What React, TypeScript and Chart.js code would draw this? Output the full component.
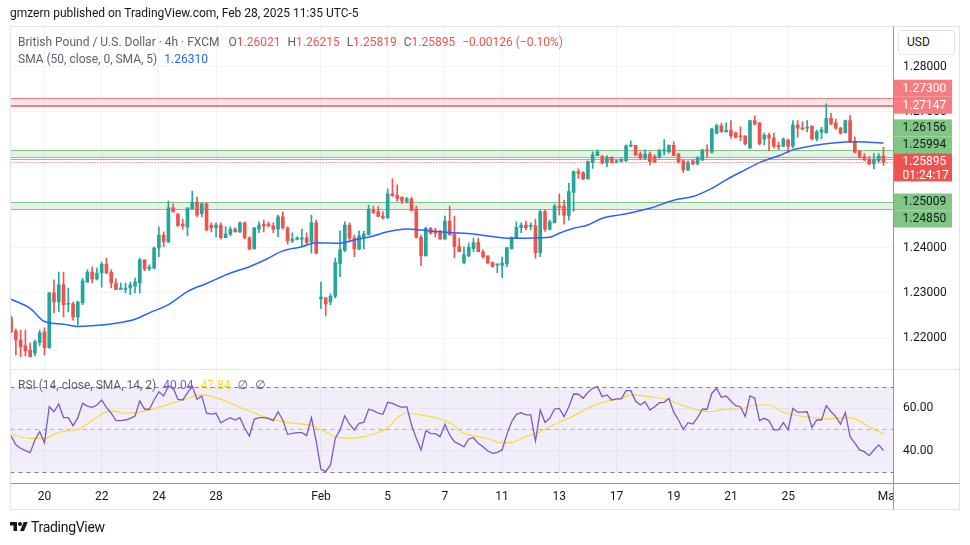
import React, { useEffect, useRef } from 'react';
import { Chart, registerables } from 'chart.js';

Chart.register(...registerables);

const FONT = 'Roboto, "Noto Sans", "DejaVu Sans", sans-serif';
const UP = '#26a69a';
const DOWN = '#ef5350';
const GREY_TEXT = '#5d606b';
const TEXT = '#131722';

// ---- 4h GBPUSD candles (index 0 = Jan 16 13:00 ... index 183 = Feb 28 09:00) ----
const opens = [
  1.2245, 1.2216, 1.2196, 1.2183, 1.2174, 1.2167, 1.2190, 1.2214, 1.2179, 1.2300,
  1.2280, 1.2318, 1.2275, 1.2276, 1.2247, 1.2278, 1.2324, 1.2346, 1.2331, 1.2344,
  1.2364, 1.2346, 1.2322, 1.2308, 1.2308, 1.2311, 1.2315, 1.2322, 1.2373, 1.2353,
  1.2355, 1.2399, 1.2428, 1.2413, 1.2488, 1.2475, 1.2452, 1.2446, 1.2486, 1.2501,
  1.2475, 1.2497, 1.2450, 1.2444, 1.2450, 1.2422, 1.2430, 1.2441, 1.2435, 1.2455,
  1.2422, 1.2397, 1.2441, 1.2452, 1.2452, 1.2448, 1.2441, 1.2468, 1.2444, 1.2415,
  1.2418, 1.2419, 1.2422, 1.2413, 1.2455, 1.2287, 1.2289, 1.2280, 1.2293, 1.2364,
  1.2394, 1.2450, 1.2421, 1.2397, 1.2423, 1.2428, 1.2483, 1.2480, 1.2470, 1.2466,
  1.2519, 1.2516, 1.2511, 1.2502, 1.2508, 1.2485, 1.2423, 1.2382, 1.2443, 1.2437,
  1.2434, 1.2419, 1.2459, 1.2430, 1.2403, 1.2367, 1.2382, 1.2398, 1.2411, 1.2391,
  1.2382, 1.2367, 1.2362, 1.2361, 1.2364, 1.2397, 1.2421, 1.2444, 1.2450, 1.2447,
  1.2448, 1.2389, 1.2480, 1.2441, 1.2455, 1.2492, 1.2492, 1.2471, 1.2522, 1.2568,
  1.2566, 1.2552, 1.2588, 1.2603, 1.2601, 1.2587, 1.2600, 1.2589, 1.2591, 1.2592,
  1.2624, 1.2626, 1.2607, 1.2598, 1.2607, 1.2601, 1.2600, 1.2614, 1.2612, 1.2626,
  1.2607, 1.2592, 1.2572, 1.2592, 1.2585, 1.2594, 1.2616, 1.2611, 1.2653, 1.2670,
  1.2656, 1.2660, 1.2653, 1.2647, 1.2647, 1.2620, 1.2681, 1.2676, 1.2640, 1.2649,
  1.2642, 1.2626, 1.2624, 1.2638, 1.2624, 1.2671, 1.2665, 1.2664, 1.2668, 1.2640,
  1.2655, 1.2654, 1.2686, 1.2676, 1.2664, 1.2654, 1.2681, 1.2634, 1.2613, 1.2601,
  1.2596, 1.2585, 1.2592, 1.26021,
];
const highs = [
  1.2249, 1.2220, 1.2218, 1.2218, 1.2190, 1.2196, 1.2218, 1.2223, 1.2301, 1.2329,
  1.2346, 1.2346, 1.2311, 1.2280, 1.2282, 1.2333, 1.2351, 1.2357, 1.2355, 1.2368,
  1.2377, 1.2351, 1.2331, 1.2322, 1.2322, 1.2324, 1.2333, 1.2377, 1.2373, 1.2362,
  1.2402, 1.2446, 1.2435, 1.2503, 1.2497, 1.2475, 1.2463, 1.2488, 1.2525, 1.2512,
  1.2499, 1.2499, 1.2455, 1.2455, 1.2455, 1.2446, 1.2446, 1.2444, 1.2457, 1.2457,
  1.2424, 1.2444, 1.2457, 1.2461, 1.2457, 1.2455, 1.2472, 1.2479, 1.2446, 1.2433,
  1.2424, 1.2441, 1.2433, 1.2472, 1.2461, 1.2324, 1.2289, 1.2298, 1.2377, 1.2437,
  1.2457, 1.2455, 1.2428, 1.2437, 1.2436, 1.2494, 1.2492, 1.2491, 1.2480, 1.2530,
  1.2552, 1.2539, 1.2513, 1.2511, 1.2511, 1.2492, 1.2428, 1.2445, 1.2445, 1.2443,
  1.2439, 1.2470, 1.2492, 1.2469, 1.2421, 1.2402, 1.2410, 1.2421, 1.2421, 1.2395,
  1.2382, 1.2369, 1.2364, 1.2379, 1.2400, 1.2424, 1.2457, 1.2455, 1.2459, 1.2455,
  1.2463, 1.2483, 1.2483, 1.2461, 1.2496, 1.2519, 1.2505, 1.2542, 1.2570, 1.2574,
  1.2568, 1.2592, 1.2612, 1.2616, 1.2604, 1.2603, 1.2600, 1.2594, 1.2598, 1.2627,
  1.2636, 1.2626, 1.2612, 1.2616, 1.2612, 1.2605, 1.2617, 1.2639, 1.2627, 1.2634,
  1.2609, 1.2594, 1.2592, 1.2594, 1.2601, 1.2617, 1.2627, 1.2664, 1.2673, 1.2675,
  1.2676, 1.2681, 1.2656, 1.2667, 1.2647, 1.2682, 1.2691, 1.2676, 1.2653, 1.2653,
  1.2653, 1.2634, 1.2642, 1.2640, 1.2681, 1.2681, 1.2678, 1.2681, 1.2670, 1.2660,
  1.2666, 1.2718, 1.2697, 1.2684, 1.2666, 1.2682, 1.2692, 1.2645, 1.2615, 1.2608,
  1.2601, 1.2608, 1.2608, 1.26215,
];
const lows = [
  1.2212, 1.2163, 1.2159, 1.2161, 1.2159, 1.2161, 1.2183, 1.2163, 1.2178, 1.2256,
  1.2258, 1.2247, 1.2258, 1.2240, 1.2229, 1.2274, 1.2324, 1.2322, 1.2329, 1.2313,
  1.2342, 1.2311, 1.2307, 1.2307, 1.2300, 1.2296, 1.2300, 1.2300, 1.2349, 1.2349,
  1.2353, 1.2380, 1.2402, 1.2411, 1.2479, 1.2448, 1.2441, 1.2426, 1.2486, 1.2468,
  1.2468, 1.2437, 1.2435, 1.2424, 1.2419, 1.2422, 1.2426, 1.2435, 1.2433, 1.2419,
  1.2395, 1.2397, 1.2433, 1.2435, 1.2446, 1.2433, 1.2424, 1.2441, 1.2408, 1.2411,
  1.2417, 1.2404, 1.2406, 1.2388, 1.2386, 1.2265, 1.2249, 1.2274, 1.2289, 1.2336,
  1.2391, 1.2413, 1.2380, 1.2395, 1.2397, 1.2428, 1.2476, 1.2469, 1.2463, 1.2465,
  1.2513, 1.2502, 1.2498, 1.2499, 1.2482, 1.2421, 1.2360, 1.2382, 1.2430, 1.2424,
  1.2419, 1.2419, 1.2428, 1.2378, 1.2391, 1.2364, 1.2380, 1.2391, 1.2391, 1.2377,
  1.2366, 1.2357, 1.2345, 1.2334, 1.2358, 1.2397, 1.2421, 1.2433, 1.2439, 1.2439,
  1.2377, 1.2380, 1.2436, 1.2439, 1.2454, 1.2472, 1.2452, 1.2461, 1.2480, 1.2553,
  1.2550, 1.2552, 1.2575, 1.2603, 1.2585, 1.2579, 1.2587, 1.2587, 1.2589, 1.2590,
  1.2623, 1.2603, 1.2595, 1.2595, 1.2583, 1.2588, 1.2598, 1.2605, 1.2609, 1.2603,
  1.2587, 1.2566, 1.2570, 1.2583, 1.2583, 1.2592, 1.2600, 1.2609, 1.2651, 1.2655,
  1.2655, 1.2642, 1.2642, 1.2636, 1.2627, 1.2620, 1.2671, 1.2627, 1.2627, 1.2614,
  1.2620, 1.2616, 1.2623, 1.2610, 1.2620, 1.2644, 1.2660, 1.2656, 1.2638, 1.2636,
  1.2640, 1.2653, 1.2671, 1.2662, 1.2651, 1.2653, 1.2632, 1.2609, 1.2598, 1.2592,
  1.2583, 1.2574, 1.2587, 1.25819,
];
const closes = [
  1.2214, 1.2196, 1.2181, 1.2172, 1.2159, 1.2192, 1.2212, 1.2179, 1.2300, 1.2280,
  1.2318, 1.2274, 1.2277, 1.2247, 1.2280, 1.2327, 1.2346, 1.2331, 1.2344, 1.2364,
  1.2344, 1.2322, 1.2307, 1.2311, 1.2311, 1.2318, 1.2324, 1.2373, 1.2353, 1.2357,
  1.2399, 1.2428, 1.2413, 1.2488, 1.2479, 1.2448, 1.2448, 1.2488, 1.2501, 1.2472,
  1.2497, 1.2439, 1.2444, 1.2450, 1.2422, 1.2430, 1.2441, 1.2435, 1.2455, 1.2422,
  1.2397, 1.2444, 1.2450, 1.2448, 1.2448, 1.2441, 1.2468, 1.2444, 1.2415, 1.2419,
  1.2422, 1.2422, 1.2411, 1.2455, 1.2388, 1.2291, 1.2276, 1.2293, 1.2367, 1.2395,
  1.2450, 1.2421, 1.2397, 1.2426, 1.2430, 1.2485, 1.2477, 1.2469, 1.2466, 1.2519,
  1.2515, 1.2508, 1.2503, 1.2508, 1.2482, 1.2423, 1.2382, 1.2443, 1.2432, 1.2432,
  1.2419, 1.2459, 1.2428, 1.2402, 1.2391, 1.2384, 1.2401, 1.2411, 1.2391, 1.2380,
  1.2366, 1.2358, 1.2363, 1.2366, 1.2400, 1.2423, 1.2445, 1.2450, 1.2444, 1.2449,
  1.2389, 1.2480, 1.2441, 1.2457, 1.2492, 1.2489, 1.2471, 1.2524, 1.2568, 1.2564,
  1.2552, 1.2590, 1.2605, 1.2612, 1.2587, 1.2600, 1.2588, 1.2592, 1.2594, 1.2625,
  1.2626, 1.2605, 1.2598, 1.2607, 1.2590, 1.2590, 1.2614, 1.2616, 1.2626, 1.2603,
  1.2590, 1.2572, 1.2588, 1.2585, 1.2598, 1.2616, 1.2614, 1.2662, 1.2670, 1.2656,
  1.2659, 1.2647, 1.2644, 1.2645, 1.2629, 1.2681, 1.2673, 1.2629, 1.2649, 1.2642,
  1.2624, 1.2623, 1.2640, 1.2624, 1.2671, 1.2664, 1.2662, 1.2666, 1.2640, 1.2656,
  1.2661, 1.2686, 1.2673, 1.2664, 1.2653, 1.2681, 1.2634, 1.2611, 1.2600, 1.2594,
  1.2585, 1.2595, 1.26021, 1.25895,
];

// SMA(50): [bar index, value]
const sma50Points = [
  [0, 1.2286], [4, 1.2266], [7, 1.2237], [11, 1.2231], [14, 1.2226], [19, 1.2229],
  [22, 1.2233], [26, 1.2242], [29, 1.2256], [33, 1.2274], [37, 1.2303], [41, 1.2321],
  [46, 1.2344], [50, 1.2358], [54, 1.2377], [57, 1.2393], [61, 1.2402], [64, 1.2411],
  [69, 1.2410], [72, 1.2417], [76, 1.2426], [79, 1.2435], [83, 1.2441], [86, 1.2439],
  [90, 1.2435], [93, 1.2433], [97, 1.2430], [100, 1.2426], [104, 1.2421], [107, 1.2421],
  [111, 1.2422], [113, 1.2423], [115, 1.2432], [118, 1.2443], [121, 1.2450], [124, 1.2465],
  [128, 1.2473], [134, 1.2487], [139, 1.2505], [143, 1.2513], [147, 1.2531], [150, 1.2550],
  [154, 1.2572], [157, 1.2588], [161, 1.2603], [164, 1.2616], [168, 1.2625], [173, 1.2632],
  [177, 1.2634], [180, 1.2633], [183, 1.2631],
];

// RSI(14) per bar
const rsiValues = [
  46.9, 42.7, 41.1, 40.0, 39.0, 45.0, 49.0, 43.7, 60.8, 58.4,
  62.1, 55.6, 55.6, 51.8, 55.6, 62.4, 61.1, 60.5, 61.6, 64.0,
  60.5, 57.7, 54.2, 54.2, 54.5, 55.3, 56.4, 63.6, 59.6, 59.6,
  64.0, 67.9, 65.9, 70.6, 69.5, 64.3, 64.0, 67.4, 70.6, 64.3,
  65.9, 57.7, 57.3, 57.7, 53.2, 54.5, 55.6, 54.5, 55.6, 50.6,
  46.9, 54.8, 55.6, 55.6, 55.3, 54.2, 58.4, 54.5, 47.7, 48.2,
  48.5, 48.5, 47.1, 55.6, 44.5, 31.1, 30.0, 33.2, 45.8, 49.8,
  56.5, 52.5, 49.8, 52.9, 53.4, 59.6, 58.9, 57.7, 57.2, 62.9,
  62.4, 61.3, 60.5, 60.8, 52.1, 45.8, 40.3, 49.4, 48.2, 48.0,
  46.6, 52.5, 47.4, 44.2, 43.1, 41.8, 45.5, 46.1, 43.5, 41.8,
  39.8, 38.7, 39.2, 40.3, 47.7, 53.7, 57.2, 58.0, 56.9, 56.9,
  44.5, 59.2, 53.4, 55.3, 59.7, 60.0, 56.1, 60.8, 66.8, 66.7,
  64.8, 67.6, 69.5, 70.3, 65.6, 66.4, 64.0, 64.5, 64.5, 68.4,
  68.4, 63.5, 61.6, 63.2, 59.2, 60.8, 62.7, 62.9, 64.8, 58.2,
  54.5, 50.1, 53.2, 52.6, 55.6, 59.6, 59.6, 67.2, 69.5, 65.3,
  65.9, 63.5, 61.3, 60.8, 56.1, 65.9, 64.8, 54.2, 55.3, 54.2,
  49.8, 49.8, 53.2, 49.8, 60.0, 58.2, 58.2, 58.4, 51.0, 54.5,
  54.5, 61.3, 58.4, 56.1, 52.6, 58.0, 46.6, 43.5, 40.3, 39.5,
  37.6, 40.3, 42.7, 40.04,
];

// RSI-based MA (SMA 14): [bar index, value]
const rsiMaPoints = [
  [0, 47.7], [4, 45.8], [7, 45.8], [10, 48.7], [14, 50.1], [19, 57.2], [21, 58.9],
  [24, 57.7], [26, 58.0], [29, 59.2], [33, 61.9], [36, 64.0], [40, 66.4], [44, 64.3],
  [48, 60.5], [53, 56.1], [57, 53.7], [61, 52.5], [63, 52.1], [65, 50.0], [68, 46.6],
  [71, 45.8], [74, 46.6], [77, 48.7], [79, 50.6], [81, 55.6], [83, 57.7], [86, 56.9],
  [89, 55.6], [92, 53.2], [95, 48.2], [98, 46.6], [100, 45.5], [103, 43.7], [105, 43.9],
  [108, 46.6], [111, 49.0], [114, 52.5], [117, 55.3], [121, 60.0], [124, 62.8], [128, 64.8],
  [130, 66.4], [134, 65.5], [138, 64.0], [141, 61.3], [145, 58.8], [147, 58.4], [150, 59.7],
  [153, 59.7], [156, 61.6], [159, 61.6], [162, 58.2], [165, 56.5], [168, 55.8], [171, 55.0],
  [175, 55.6], [177, 55.0], [180, 51.3], [183, 47.84],
];

// axis ticks
const xTickIndex = [7, 19, 31, 43, 65, 79, 91, 103, 115, 127, 139, 151, 163, 184];
const xTickText = ['20', '22', '24', '28', 'Feb', '5', '7', '11', '13', '17', '19', '21', '25', 'Mar'];
const priceTicks = [1.22, 1.23, 1.24, 1.25, 1.26, 1.27, 1.28];
const rsiTicks = [40, 60];
const rsiBandLevels = [70, 50, 30];

// drawn zones: [top label, bottom label, extra line]
const redZone = [1.273, 1.27147, 1.27124];
const greenZoneHigh = [1.26156, 1.25994, 1.25955];
const greenZoneLow = [1.25009, 1.2485];
const countdown = '01:24:17';

const smaLast = 1.2631;
const rsiLast = 40.04;
const rsiMaLast = 47.84;

const N = opens.length;
const idx = opens.map((_, i) => i);
const candleColor = (i: number) => (closes[i] >= opens[i] ? UP : DOWN);

const overlayPlugin = {
  id: 'tvOverlay',
  beforeDatasetsDraw(chart: any) {
    const { ctx, chartArea: a, scales } = chart;
    const y = scales.y;
    const r = scales.rsi;
    const hline = (p: number, color: string, dash?: number[]) => {
      const py = Math.round(p) + 0.5;
      ctx.strokeStyle = color;
      ctx.lineWidth = 1;
      ctx.setLineDash(dash || []);
      ctx.beginPath();
      ctx.moveTo(a.left, py);
      ctx.lineTo(a.right, py);
      ctx.stroke();
      ctx.setLineDash([]);
    };
    ctx.save();
    ctx.beginPath();
    ctx.rect(a.left, y.top, a.right - a.left, y.bottom - y.top);
    ctx.clip();
    const zone = (vals: number[], fill: string, stroke: string) => {
      const t = y.getPixelForValue(vals[0]);
      const b = y.getPixelForValue(vals[1]);
      ctx.fillStyle = fill;
      ctx.fillRect(a.left, t, a.right - a.left, b - t);
      vals.forEach((v) => hline(y.getPixelForValue(v), stroke));
    };
    zone(redZone, 'rgba(242,54,69,0.14)', '#f77c80');
    zone(greenZoneHigh, 'rgba(76,175,80,0.15)', '#81c784');
    zone(greenZoneLow, 'rgba(76,175,80,0.15)', '#81c784');
    ctx.restore();

    ctx.save();
    ctx.beginPath();
    ctx.rect(a.left, r.top, a.right - a.left, r.bottom - r.top);
    ctx.clip();
    const t70 = r.getPixelForValue(70);
    const b30 = r.getPixelForValue(30);
    ctx.fillStyle = 'rgba(126,87,194,0.1)';
    ctx.fillRect(a.left, t70, a.right - a.left, b30 - t70);
    rsiBandLevels.forEach((v) =>
      hline(r.getPixelForValue(v), v === 50 ? 'rgba(120,123,134,0.55)' : '#787b86', [4, 4])
    );
    ctx.restore();
  },
  afterDatasetsDraw(chart: any) {
    const { ctx, chartArea: a, scales } = chart;
    const y = scales.y;
    const py = Math.round(y.getPixelForValue(closes[N - 1])) + 0.5;
    ctx.save();
    ctx.strokeStyle = DOWN;
    ctx.lineWidth = 1;
    ctx.setLineDash([1, 2]);
    ctx.beginPath();
    ctx.moveTo(a.left, py);
    ctx.lineTo(a.right, py);
    ctx.stroke();
    ctx.restore();
  },
  afterDraw(chart: any) {
    const { ctx, chartArea: a, scales } = chart;
    const y = scales.y;
    const right = Math.round(a.right) + 0.5;
    const bottom = Math.round(a.bottom) + 0.5;
    ctx.save();
    // clip x labels under the price axis
    ctx.fillStyle = '#ffffff';
    ctx.fillRect(right + 0.5, bottom + 0.5, 970 - right, 26);
    const seg = (x1: number, y1: number, x2: number, y2: number, c: string) => {
      ctx.strokeStyle = c;
      ctx.lineWidth = 1;
      ctx.beginPath();
      ctx.moveTo(x1, y1);
      ctx.lineTo(x2, y2);
      ctx.stroke();
    };
    ctx.strokeStyle = '#e0e3eb';
    ctx.lineWidth = 1;
    ctx.strokeRect(10.5, 26.5, 949, 483);
    const sep = Math.round(y.bottom) + 0.5;
    seg(10.5, sep, 959.5, sep, '#e0e3eb');
    seg(right, 26.5, right, 509.5, '#9598a1');
    seg(10.5, bottom, 959.5, bottom, '#9598a1');

    // price-axis labels
    const x0 = right + 0.5;
    const w = 58;
    const h = 17;
    ctx.font = `12px ${FONT}`;
    ctx.textBaseline = 'middle';
    ctx.textAlign = 'left';
    const box = (top: number, hh: number, bg: string, fg: string, lines: string[]) => {
      ctx.fillStyle = bg;
      ctx.fillRect(x0, top, w, hh);
      ctx.fillStyle = fg;
      lines.forEach((t, k) => ctx.fillText(t, x0 + 8.5, top + 8.8 + k * 14));
    };
    const last = closes[N - 1];
    const cy = y.getPixelForValue(last);
    const curTop = cy - 8.5;
    const curH = 28;
    const labels = [
      { v: redZone[0], bg: '#f77c80', fg: '#ffffff' },
      { v: redZone[1], bg: '#f77c80', fg: '#ffffff' },
      { v: greenZoneHigh[0], bg: '#81c784', fg: TEXT },
      { v: greenZoneHigh[1], bg: '#81c784', fg: TEXT },
      { v: greenZoneLow[0], bg: '#81c784', fg: TEXT },
      { v: greenZoneLow[1], bg: '#81c784', fg: TEXT },
    ];
    let limit = curTop;
    labels
      .filter((l) => l.v > last)
      .sort((p, q) => p.v - q.v)
      .forEach((l) => {
        const b = Math.min(y.getPixelForValue(l.v) + h / 2, limit);
        box(b - h, h, l.bg, l.fg, [l.v.toFixed(5)]);
        limit = b - h;
      });
    limit = curTop + curH;
    labels
      .filter((l) => l.v < last)
      .sort((p, q) => q.v - p.v)
      .forEach((l) => {
        const t = Math.max(y.getPixelForValue(l.v) - h / 2, limit);
        box(t, h, l.bg, l.fg, [l.v.toFixed(5)]);
        limit = t + h;
      });
    box(curTop, curH, DOWN, '#ffffff', [last.toFixed(5), countdown]);
    ctx.restore();
  },
};

export default function App() {
  const ref = useRef<HTMLCanvasElement | null>(null);

  useEffect(() => {
    if (!ref.current) return;
    Chart.defaults.font.family = FONT;
    const tickFont = { family: FONT, size: 12 };
    const chart = new Chart(ref.current, {
      type: 'bar',
      data: {
        datasets: [
          {
            type: 'line',
            label: 'SMA 50',
            data: sma50Points.map(([x, v]) => ({ x, y: v })),
            borderColor: '#2962ff',
            borderWidth: 1.5,
            pointRadius: 0,
            cubicInterpolationMode: 'monotone',
            yAxisID: 'y',
            xAxisID: 'x',
            order: 0,
          },
          {
            type: 'bar',
            label: 'body',
            data: idx.map((i) => ({ x: i, y: [opens[i], closes[i]] })),
            backgroundColor: idx.map(candleColor),
            barThickness: 3,
            minBarLength: 1,
            grouped: false,
            borderWidth: 0,
            borderSkipped: false,
            yAxisID: 'y',
            xAxisID: 'x',
            order: 1,
          },
          {
            type: 'bar',
            label: 'wick',
            data: idx.map((i) => ({ x: i, y: [lows[i], highs[i]] })),
            backgroundColor: idx.map(candleColor),
            barThickness: 1,
            minBarLength: 1,
            grouped: false,
            borderWidth: 0,
            borderSkipped: false,
            yAxisID: 'y',
            xAxisID: 'x',
            order: 2,
          },
          {
            type: 'line',
            label: 'RSI',
            data: rsiValues.map((v, i) => ({ x: i, y: v })),
            borderColor: '#7e57c2',
            borderWidth: 1.3,
            pointRadius: 0,
            tension: 0,
            yAxisID: 'rsi',
            xAxisID: 'x',
            order: 0,
          },
          {
            type: 'line',
            label: 'RSI MA',
            data: rsiMaPoints.map(([x, v]) => ({ x, y: v })),
            borderColor: '#fdd835',
            borderWidth: 1.2,
            pointRadius: 0,
            cubicInterpolationMode: 'monotone',
            yAxisID: 'rsi',
            xAxisID: 'x',
            order: 1,
          },
        ] as any,
      },
      options: {
        responsive: false,
        maintainAspectRatio: false,
        devicePixelRatio: 1,
        animation: false,
        events: [],
        layout: { padding: { left: 10.5, top: 27, right: 10.5, bottom: 35 } },
        plugins: { legend: { display: false }, tooltip: { enabled: false } },
        scales: {
          x: {
            type: 'linear',
            position: 'bottom',
            min: -0.126,
            max: 185,
            offset: false,
            afterBuildTicks: (s: any) => {
              s.ticks = xTickIndex.map((v) => ({ value: v }));
            },
            afterFit: (s: any) => {
              s.height = 27;
            },
            ticks: {
              autoSkip: false,
              maxRotation: 0,
              padding: 7,
              color: TEXT,
              font: tickFont,
              callback: (v: any) => {
                const k = xTickIndex.indexOf(Number(v));
                return k >= 0 ? xTickText[k] : '';
              },
            },
            grid: {
              color: (c: any) => (c.tick && c.tick.value === 184 ? 'rgba(0,0,0,0)' : '#f0f3fa'),
              drawTicks: false,
              offset: false,
            },
            border: { display: false },
          },
          y: {
            type: 'linear',
            position: 'right',
            stack: 'pane',
            stackWeight: 342,
            min: 1.2132,
            max: 1.28875,
            afterBuildTicks: (s: any) => {
              s.ticks = priceTicks.map((v) => ({ value: v }));
            },
            afterFit: (s: any) => {
              s.width = 66.5;
            },
            ticks: {
              padding: 10,
              color: TEXT,
              font: tickFont,
              callback: (v: any) => Number(v).toFixed(5),
            },
            grid: { color: '#f0f3fa', drawTicks: false },
            border: { display: false },
          },
          rsi: {
            type: 'linear',
            position: 'right',
            stack: 'pane',
            stackWeight: 114,
            min: 24.64,
            max: 78.67,
            afterBuildTicks: (s: any) => {
              s.ticks = rsiTicks.map((v) => ({ value: v }));
            },
            afterFit: (s: any) => {
              s.width = 66.5;
            },
            ticks: {
              padding: 10,
              color: TEXT,
              font: tickFont,
              callback: (v: any) => Number(v).toFixed(2),
            },
            grid: { color: '#f0f3fa', drawTicks: false },
            border: { display: false },
          },
        } as any,
      },
      plugins: [overlayPlugin],
    } as any);
    return () => chart.destroy();
  }, []);

  const last = N - 1;
  const chg = closes[last] - closes[last - 1];
  const pct = (chg / closes[last - 1]) * 100;
  const fmtSigned = (v: number, d: number) => (v < 0 ? '\u2212' : '+') + Math.abs(v).toFixed(d);
  const red = { color: DOWN };
  const gap = { marginLeft: 7 };
  const legendStyle = {
    position: 'absolute' as const,
    left: 18,
    fontSize: 12,
    lineHeight: '16px',
    color: GREY_TEXT,
    whiteSpace: 'nowrap' as const,
  };

  return (
    <div
      style={{
        position: 'absolute',
        left: 0,
        top: 0,
        width: 970,
        height: 545,
        background: '#ffffff',
        fontFamily: FONT,
        overflow: 'hidden',
      }}
    >
      <canvas
        ref={ref}
        width={970}
        height={545}
        style={{ position: 'absolute', left: 0, top: 0, width: 970, height: 545 }}
      />
      <div style={{ position: 'absolute', left: 10, top: 5, fontSize: 12, lineHeight: '16px', color: TEXT, whiteSpace: 'nowrap' }}>
        gmzern published on TradingView.com, Feb 28, 2025 11:35 UTC-5
      </div>
      <div style={{ ...legendStyle, top: 34 }}>
        <span>British Pound / U.S. Dollar · 4h · FXCM</span>
        <span style={{ marginLeft: 9 }}>O<span style={red}>{opens[last].toFixed(5)}</span></span>
        <span style={gap}>H<span style={red}>{highs[last].toFixed(5)}</span></span>
        <span style={gap}>L<span style={red}>{lows[last].toFixed(5)}</span></span>
        <span style={gap}>C<span style={red}>{closes[last].toFixed(5)}</span></span>
        <span style={{ ...gap, ...red }}>
          {fmtSigned(chg, 5)} ({fmtSigned(pct, 2)}%)
        </span>
      </div>
      <div style={{ ...legendStyle, top: 51 }}>
        <span>SMA (50, close, 0, SMA, 5)</span>
        <span style={{ ...gap, color: '#2962ff' }}>{smaLast.toFixed(5)}</span>
      </div>
      <div style={{ ...legendStyle, top: 377 }}>
        <span>RSI (14, close, SMA, 14, 2)</span>
        <span style={{ ...gap, color: '#7e57c2' }}>{rsiLast.toFixed(2)}</span>
        <span style={{ ...gap, color: '#fdd835' }}>{rsiMaLast.toFixed(2)}</span>
        <span style={gap}>∅</span>
        <span style={gap}>∅</span>
      </div>
      <div
        style={{
          position: 'absolute',
          left: 898,
          top: 30,
          width: 57,
          height: 25,
          boxSizing: 'border-box',
          border: '1px solid #e0e3eb',
          borderRadius: 4,
          background: '#ffffff',
          fontSize: 12,
          lineHeight: '23px',
          paddingLeft: 8,
          color: TEXT,
        }}
      >
        USD
      </div>
      <div style={{ position: 'absolute', left: 10, top: 519, height: 16, display: 'flex', alignItems: 'center', color: TEXT }}>
        <svg width="18" height="14" viewBox="0 0 36 28" style={{ marginRight: 3 }}>
          <path d="M14 22H7V11H0V4h14v18z" fill={TEXT} />
          <circle cx="20" cy="8" r="4" fill={TEXT} />
          <path d="M28 22h-8l7.5-18h8L28 22z" fill={TEXT} />
        </svg>
        <span style={{ fontSize: 14, letterSpacing: -0.3 }}>TradingView</span>
      </div>
    </div>
  );
}
